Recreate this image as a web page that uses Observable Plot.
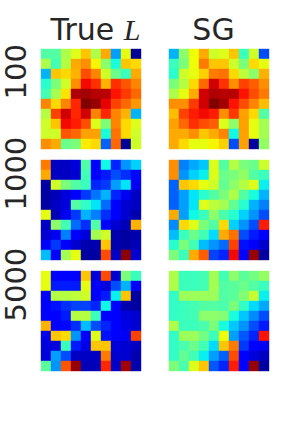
<!DOCTYPE html>
<html>
<head>
<meta charset="utf-8">
<script src="https://cdn.jsdelivr.net/npm/d3@7"></script>
<script src="https://cdn.jsdelivr.net/npm/@observablehq/plot@0.6"></script>
<style>
  html, body { margin: 0; padding: 0; background: #fff; }
  #chart { width: 302px; height: 432px; }
</style>
</head>
<body>
<div id="chart"></div>
<script>
const methods = ["True L", "SG"];
const ns = [100, 1000, 5000];

const trueL100 = [
  [0.45,0.45,0.56,0.62,0.70,0.56,0.73,0.28,0.63,0.02],
  [0.56,0.43,0.57,0.73,0.76,0.65,0.52,0.38,0.70,0.68],
  [0.30,0.70,0.68,0.72,0.83,0.77,0.60,0.48,0.42,0.73],
  [0.40,0.50,0.60,0.76,0.90,0.86,0.72,0.86,0.82,0.77],
  [0.43,0.55,0.67,0.96,0.97,0.95,0.95,0.89,0.85,0.80],
  [0.77,0.68,0.77,0.87,1.00,0.98,0.91,0.84,0.80,0.75],
  [0.57,0.84,0.93,0.87,0.93,0.77,0.87,0.77,0.72,0.30],
  [0.60,0.70,0.90,0.88,0.83,0.62,0.50,0.77,0.68,0.62],
  [0.60,0.60,0.82,0.80,0.74,0.74,0.38,0.79,0.68,0.60],
  [0.76,0.73,0.48,0.50,0.66,0.68,0.22,0.80,0.02,0.60]
];
const sg100 = [
  [0.30,0.52,0.64,0.73,0.60,0.62,0.70,0.42,0.60,0.20],
  [0.42,0.50,0.64,0.78,0.70,0.70,0.60,0.50,0.68,0.63],
  [0.40,0.60,0.63,0.69,0.78,0.79,0.68,0.58,0.52,0.72],
  [0.50,0.57,0.68,0.80,0.93,0.86,0.76,0.84,0.81,0.76],
  [0.56,0.63,0.73,0.93,0.96,0.95,0.95,0.89,0.83,0.78],
  [0.76,0.76,0.85,0.93,1.00,0.97,0.89,0.83,0.77,0.71],
  [0.71,0.84,0.88,0.90,0.88,0.76,0.85,0.74,0.68,0.45],
  [0.74,0.80,0.86,0.83,0.81,0.62,0.52,0.74,0.63,0.55],
  [0.73,0.73,0.76,0.70,0.73,0.77,0.37,0.74,0.63,0.55],
  [0.73,0.68,0.63,0.63,0.65,0.69,0.20,0.74,0.03,0.53]
];
const trueL1000 = [
  [0.78,0.06,0.06,0.08,0.45,0.12,0.37,0.16,0.27,0.33],
  [0.73,0.06,0.06,0.07,0.43,0.12,0.15,0.20,0.17,0.13],
  [0.03,0.60,0.50,0.45,0.42,0.16,0.18,0.28,0.35,0.10],
  [0.03,0.05,0.08,0.11,0.18,0.24,0.30,0.16,0.10,0.06],
  [0.03,0.06,0.08,0.45,0.41,0.35,0.23,0.11,0.07,0.06],
  [0.63,0.05,0.10,0.18,0.30,0.25,0.17,0.11,0.07,0.04],
  [0.06,0.52,0.43,0.23,0.17,0.45,0.11,0.07,0.05,0.72],
  [0.07,0.10,0.25,0.11,0.08,0.55,0.60,0.04,0.03,0.04],
  [0.11,0.18,0.11,0.07,0.04,0.04,0.70,0.04,0.03,0.05],
  [0.31,0.12,0.55,0.63,0.03,0.03,0.83,0.06,0.99,0.07]
];
const sg1000 = [
  [0.76,0.25,0.29,0.32,0.62,0.45,0.57,0.50,0.48,0.60],
  [0.76,0.27,0.33,0.36,0.62,0.48,0.50,0.53,0.45,0.42],
  [0.22,0.70,0.68,0.63,0.60,0.47,0.52,0.57,0.62,0.36],
  [0.22,0.28,0.35,0.40,0.45,0.50,0.56,0.45,0.38,0.30],
  [0.22,0.28,0.35,0.62,0.58,0.55,0.47,0.40,0.30,0.25],
  [0.73,0.28,0.37,0.42,0.52,0.44,0.40,0.33,0.27,0.20],
  [0.26,0.68,0.62,0.50,0.45,0.68,0.33,0.27,0.20,0.88],
  [0.31,0.42,0.48,0.43,0.34,0.73,0.79,0.20,0.15,0.11],
  [0.40,0.50,0.43,0.31,0.27,0.23,0.84,0.14,0.11,0.07],
  [0.50,0.42,0.73,0.81,0.19,0.16,0.90,0.12,0.98,0.03]
];
const trueL5000 = [
  [0.63,0.12,0.12,0.11,0.70,0.08,0.83,0.07,0.50,0.42],
  [0.63,0.15,0.15,0.15,0.63,0.11,0.08,0.20,0.30,0.12],
  [0.11,0.57,0.57,0.58,0.60,0.11,0.15,0.36,0.70,0.03],
  [0.11,0.14,0.17,0.19,0.19,0.16,0.37,0.11,0.04,0.03],
  [0.11,0.11,0.15,0.57,0.57,0.42,0.11,0.11,0.08,0.07],
  [0.72,0.11,0.13,0.17,0.31,0.20,0.16,0.11,0.09,0.07],
  [0.09,0.70,0.68,0.27,0.11,0.62,0.14,0.11,0.10,0.84],
  [0.08,0.08,0.42,0.15,0.09,0.70,0.70,0.08,0.07,0.06],
  [0.08,0.28,0.20,0.06,0.06,0.06,0.78,0.07,0.07,0.04],
  [0.46,0.27,0.82,0.98,0.05,0.05,0.87,0.06,0.97,0.04]
];
const sg5000 = [
  [0.56,0.42,0.42,0.43,0.55,0.43,0.52,0.46,0.49,0.53],
  [0.56,0.42,0.42,0.43,0.55,0.45,0.46,0.48,0.45,0.42],
  [0.41,0.54,0.54,0.54,0.54,0.45,0.46,0.51,0.59,0.36],
  [0.41,0.42,0.43,0.45,0.45,0.44,0.50,0.41,0.34,0.29],
  [0.41,0.42,0.43,0.52,0.52,0.51,0.38,0.32,0.26,0.20],
  [0.56,0.42,0.42,0.44,0.50,0.38,0.32,0.27,0.20,0.15],
  [0.41,0.54,0.54,0.49,0.42,0.64,0.28,0.21,0.16,0.89],
  [0.41,0.44,0.48,0.43,0.34,0.70,0.78,0.18,0.12,0.10],
  [0.41,0.47,0.43,0.36,0.28,0.22,0.83,0.12,0.08,0.06],
  [0.50,0.44,0.62,0.70,0.21,0.16,0.88,0.11,0.98,0.03]
];

const grids = {
  "True L|100": trueL100, "SG|100": sg100,
  "True L|1000": trueL1000, "SG|1000": sg1000,
  "True L|5000": trueL5000, "SG|5000": sg5000
};

const cells = [];
for (const n of ns) for (const m of methods) {
  grids[m + "|" + n].forEach((row, r) => row.forEach((v, c) => cells.push({method: m, n, row: r, col: c, v})));
}

// matplotlib "jet" colormap
function seg(t, pts) {
  for (let i = 1; i < pts.length; i++) {
    if (t <= pts[i][0]) {
      const [x0, y0] = pts[i - 1], [x1, y1] = pts[i];
      return y0 + (y1 - y0) * (t - x0) / (x1 - x0);
    }
  }
  return pts[pts.length - 1][1];
}
function jet(t) {
  t = Math.max(0, Math.min(1, t));
  const r = seg(t, [[0,0],[0.35,0],[0.66,1],[0.89,1],[1,0.5]]);
  const g = seg(t, [[0,0],[0.125,0],[0.375,1],[0.64,1],[0.91,0],[1,0]]);
  const b = seg(t, [[0,0.5],[0.11,1],[0.34,1],[0.65,0],[1,0]]);
  return `rgb(${Math.round(r*255)},${Math.round(g*255)},${Math.round(b*255)})`;
}

const font = "DejaVu Sans, sans-serif";
const ink = "#262626";

const chart = Plot.plot({
  width: 302,
  height: 432,
  marginTop: 46,
  marginLeft: 38,
  marginRight: 30,
  marginBottom: 57,
  style: {fontFamily: font, background: "#fff", overflow: "visible"},
  fx: {domain: methods, paddingInner: 22 / 128, paddingOuter: 0, axis: null},
  fy: {domain: ns, paddingInner: 0.045, paddingOuter: 0, axis: null},
  x: {domain: d3.range(10), padding: 0, axis: null},
  y: {domain: d3.range(10), padding: 0, axis: null},
  color: {type: "linear", domain: [0, 1], interpolate: t => jet(t)},
  marks: [
    Plot.cell(cells, {
      x: "col", y: "row", fx: "method", fy: "n",
      fill: "v", stroke: "v", strokeWidth: 0.4, inset: 0
    }),
    Plot.text([methods[0]], {
      fx: d => d, fy: () => ns[0], text: d => d,
      frameAnchor: "top", lineAnchor: "bottom", dy: -7, dx: 4,
      fontSize: 30, fill: ink
    }),
    Plot.text([methods[1]], {
      fx: d => d, fy: () => ns[0], text: d => d,
      frameAnchor: "top", lineAnchor: "bottom", dy: -7, dx: -6,
      fontSize: 30, fill: ink
    }),
    Plot.text(ns, {
      fx: () => methods[0], fy: d => d, text: d => String(d),
      frameAnchor: "left", lineAnchor: "bottom", rotate: -90, dx: -13,
      fontSize: 29, fill: ink
    })
  ]
});

// render "True L" with a math-italic L
chart.querySelectorAll("text").forEach(el => {
  if (el.textContent === "True L") {
    el.textContent = "True ";
    const ts = document.createElementNS("http://www.w3.org/2000/svg", "tspan");
    ts.setAttribute("font-family", "Liberation Serif, DejaVu Serif, serif");
    ts.setAttribute("font-style", "italic");
    ts.textContent = "L";
    el.appendChild(ts);
  }
});

document.getElementById("chart").appendChild(chart);
</script>
</body>
</html>
